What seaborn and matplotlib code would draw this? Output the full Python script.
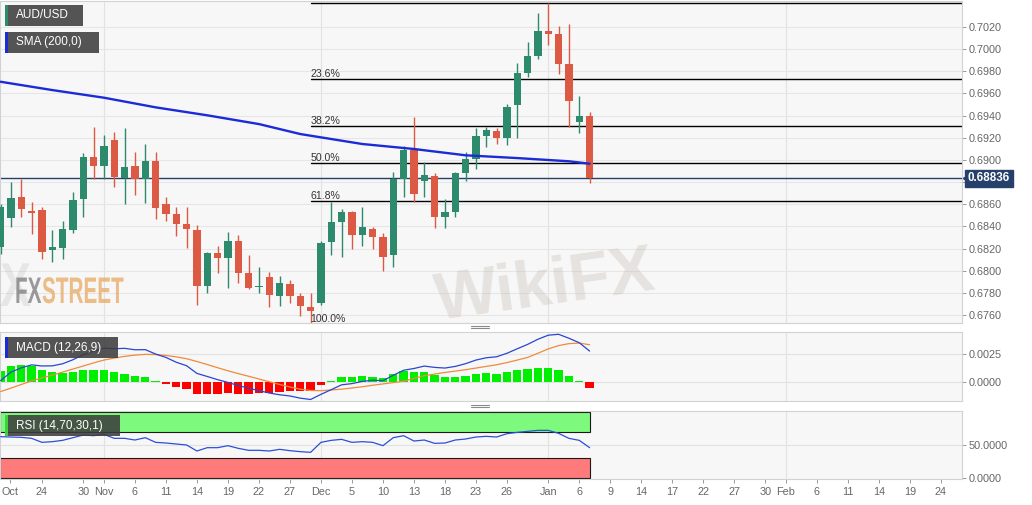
import matplotlib
matplotlib.use("Agg")
import matplotlib.pyplot as plt
import matplotlib.transforms as mtransforms
from matplotlib.patches import Rectangle, PathPatch
from matplotlib.lines import Line2D
from matplotlib.textpath import TextPath
from matplotlib.font_manager import FontProperties
import pandas as pd
import seaborn as sns

# daily AUD/USD candles, oldest first
opens = [0.68217, 0.68473, 0.68668, 0.68542, 0.68548, 0.68187, 0.68205, 0.68367, 0.68645, 0.69029,
         0.68945, 0.69180, 0.68834, 0.68945, 0.68825, 0.68993, 0.68602, 0.68512, 0.68422, 0.68367,
         0.67862, 0.68162, 0.68117, 0.68268, 0.67976, 0.67850, 0.67940, 0.67774, 0.67883, 0.67769,
         0.67675, 0.67706, 0.68256, 0.68437, 0.68527, 0.68319, 0.68374, 0.68304, 0.68142, 0.68828,
         0.69090, 0.68812, 0.68858, 0.68487, 0.68533, 0.68879, 0.69006, 0.69219, 0.69261, 0.69201,
         0.69496, 0.69787, 0.69941, 0.70164, 0.70137, 0.69866, 0.69345, 0.69399]
highs = [0.68600, 0.68803, 0.68828, 0.68623, 0.68578, 0.68367, 0.68451, 0.68713, 0.69060, 0.69295,
         0.69225, 0.69255, 0.69286, 0.69074, 0.69141, 0.69069, 0.68663, 0.68578, 0.68572, 0.68412,
         0.68171, 0.68226, 0.68347, 0.68319, 0.68139, 0.68036, 0.67991, 0.67955, 0.67916, 0.67799,
         0.67796, 0.68271, 0.68623, 0.68554, 0.68542, 0.68572, 0.68394, 0.68343, 0.68894, 0.69128,
         0.69385, 0.68984, 0.68879, 0.68645, 0.68888, 0.69074, 0.69291, 0.69300, 0.69286, 0.69502,
         0.69872, 0.70062, 0.70324, 0.70415, 0.70209, 0.70227, 0.69580, 0.69435]
lows = [0.68150, 0.68397, 0.68487, 0.68329, 0.68103, 0.68076, 0.68103, 0.68338, 0.68487, 0.68828,
        0.68828, 0.68758, 0.68602, 0.68683, 0.68614, 0.68467, 0.68451, 0.68313, 0.68202, 0.67690,
        0.67796, 0.67976, 0.67841, 0.67886, 0.67837, 0.67796, 0.67675, 0.67681, 0.67706, 0.67595,
        0.67525, 0.67690, 0.68142, 0.68121, 0.68193, 0.68223, 0.68193, 0.67997, 0.68036, 0.68663,
        0.68623, 0.68668, 0.68383, 0.68383, 0.68482, 0.68812, 0.68915, 0.69114, 0.69141, 0.69135,
        0.69201, 0.69746, 0.69911, 0.70038, 0.69776, 0.69295, 0.69240, 0.68789]
closes = [0.68578, 0.68654, 0.68560, 0.68524, 0.68171, 0.68217, 0.68379, 0.68638, 0.69026, 0.68945,
          0.69128, 0.68849, 0.68939, 0.68828, 0.68993, 0.68566, 0.68512, 0.68422, 0.68374, 0.67862,
          0.68157, 0.68117, 0.68268, 0.67976, 0.67844, 0.67864, 0.67778, 0.67886, 0.67772, 0.67681,
          0.67639, 0.68253, 0.68437, 0.68527, 0.68319, 0.68397, 0.68304, 0.68126, 0.68828, 0.69090,
          0.68692, 0.68861, 0.68482, 0.68533, 0.68879, 0.69008, 0.69216, 0.69267, 0.69201, 0.69480,
          0.69787, 0.69941, 0.70164, 0.70134, 0.69866, 0.69535, 0.69399, 0.68836]

# 200 day SMA, read at some candles
sma_idx = [0, 5, 10, 15, 20, 25, 29, 35, 40, 45, 50, 55, 57]
sma_val = [0.69706, 0.69631, 0.69562, 0.69475, 0.69403, 0.69324, 0.69234, 0.69144, 0.69099,
           0.69042, 0.69017, 0.68988, 0.68966]

fib_high = 0.70415
fib_low = 0.67521
fib_pcts = [0.0, 23.6, 38.2, 50.0, 61.8, 100.0]
last_price = 0.68836

macd_line = [0.00010, 0.00088, 0.00127, 0.00154, 0.00144, 0.00145, 0.00164, 0.00201, 0.00247, 0.00278,
             0.00307, 0.00301, 0.00305, 0.00292, 0.00293, 0.00253, 0.00222, 0.00178, 0.00146, 0.00076,
             0.00048, 0.00019, -0.00006, -0.00035, -0.00059, -0.00081, -0.00103, -0.00119, -0.00130, -0.00150,
             -0.00162, -0.00115, -0.00072, -0.00028, -0.00017, 0.00003, 0.00014, 0.00010, 0.00059, 0.00105,
             0.00121, 0.00143, 0.00131, 0.00125, 0.00140, 0.00165, 0.00198, 0.00219, 0.00228, 0.00260,
             0.00301, 0.00341, 0.00388, 0.00425, 0.00433, 0.00397, 0.00356, 0.00280]
macd_signal = [-0.00090, -0.00058, -0.00025, 0.00008, 0.00035, 0.00060, 0.00088, 0.00116, 0.00144, 0.00172,
               0.00198, 0.00216, 0.00232, 0.00243, 0.00250, 0.00248, 0.00240, 0.00227, 0.00210, 0.00185,
               0.00157, 0.00128, 0.00100, 0.00074, 0.00050, 0.00025, 0.00000, -0.00025, -0.00048, -0.00068,
               -0.00080, -0.00082, -0.00075, -0.00068, -0.00057, -0.00046, -0.00032, -0.00020, -0.00008, 0.00005,
               0.00030, 0.00055, 0.00070, 0.00085, 0.00097, 0.00110, 0.00125, 0.00140, 0.00155, 0.00175,
               0.00198, 0.00222, 0.00260, 0.00300, 0.00330, 0.00348, 0.00353, 0.00338]
macd_hist = [0.00100, 0.00146, 0.00152, 0.00146, 0.00109, 0.00085, 0.00076, 0.00085, 0.00103, 0.00106,
             0.00109, 0.00085, 0.00073, 0.00049, 0.00043, 0.00005, -0.00018, -0.00049, -0.00064, -0.00109,
             -0.00109, -0.00109, -0.00106, -0.00109, -0.00109, -0.00106, -0.00103, -0.00094, -0.00082, -0.00082,
             -0.00082, -0.00033, 0.00003, 0.00040, 0.00040, 0.00049, 0.00046, 0.00030, 0.00067, 0.00100,
             0.00091, 0.00088, 0.00061, 0.00040, 0.00043, 0.00055, 0.00073, 0.00079, 0.00073, 0.00085,
             0.00103, 0.00119, 0.00128, 0.00125, 0.00103, 0.00049, 0.00003, -0.00058]

rsi = [62.5, 62, 61.5, 60, 54, 55, 57, 61, 65, 64,
       66, 60, 60, 57.5, 61, 54, 53, 51.5, 50, 41,
       46, 46, 49, 45, 42, 42, 41, 43.5, 41.5, 40,
       39, 54, 57, 58.5, 54, 55, 54, 49, 61, 64,
       56, 57.5, 52.5, 53, 57.5, 59, 62, 63, 62, 67,
       69, 70.5, 72, 72, 67.5, 60, 57, 46]

price_ticks = [0.6760, 0.6780, 0.6800, 0.6820, 0.6840, 0.6860, 0.6880, 0.6900,
               0.6920, 0.6940, 0.6960, 0.6980, 0.7000, 0.7020]
price_labels = ["0.6760", "0.6780", "0.6800", "0.6820", "0.6840", "0.6860", "",
                "0.6900", "0.6920", "0.6940", "0.6960", "0.6980", "0.7000", "0.7020"]
date_pos = [0.9, 4, 8, 10, 13, 16, 19, 22, 25, 28, 31, 34, 37, 40, 43, 46, 49, 53, 56,
            59, 62, 65, 68, 71, 74, 76, 79, 82, 85, 88, 91]
date_labels = ["Oct", "24", "30", "Nov", "6", "11", "14", "19", "22", "27", "Dec", "5", "10",
               "13", "18", "23", "26", "Jan", "6", "9", "14", "17", "22", "27", "30", "Feb",
               "6", "11", "14", "19", "24"]
month_pos = [10, 31, 53, 76]

df = pd.DataFrame({"o": opens, "h": highs, "l": lows, "c": closes})
df["i"] = range(len(df))
df["up"] = df["c"] >= df["o"]

sns.set_style("white")
plt.rcParams["font.family"] = ["Liberation Sans", "DejaVu Sans"]

W, H = 1032, 505
fig = plt.figure(figsize=(W / 100, H / 100), dpi=100)
fig.patch.set_facecolor("white")

ax = fig.add_axes([0, 0.3604, 0.9322, 0.6376])
ax2 = fig.add_axes([0, 0.2059, 0.9322, 0.1360], sharex=ax)
ax3 = fig.add_axes([0, 0.0515, 0.9322, 0.1352], sharex=ax)

GREEN = "#2e8a6c"
RED = "#dc5a44"
for a in (ax, ax2, ax3):
    a.set_facecolor("#f7f7f7")
    for s in a.spines.values():
        s.set_color("#d2d2d2")
        s.set_linewidth(0.8)
    for m in month_pos:
        a.axvline(m, color="#e2e2e2", lw=0.8, zorder=0)
    a.tick_params(axis="y", left=False, right=True, labelleft=False, labelright=True,
                  length=3, width=0.7, color="#999999", labelcolor="#666666", labelsize=7.8, pad=2)
    a.tick_params(axis="x", bottom=False, labelbottom=False)

# --- price panel
for y in price_ticks:
    ax.axhline(y, color="#e6e6e6", lw=0.8, zorder=0)

for _, r in df.iterrows():
    col = GREEN if r["up"] else RED
    ax.vlines(r["i"], r["l"], r["h"], color=col, lw=1.0, zorder=3)
    lo, hi = min(r["o"], r["c"]), max(r["o"], r["c"])
    ax.bar(r["i"], max(hi - lo, 0.00008), bottom=lo, width=0.7, color=col, lw=0, zorder=4)

sns.lineplot(x=sma_idx, y=sma_val, ax=ax, color="#1b2bd6", lw=1.7, zorder=5)

rng = fib_high - fib_low
for p in fib_pcts:
    lvl = fib_high - rng * p / 100
    ax.plot([30, 93.5], [lvl, lvl], color="black", lw=1.0, zorder=2)
    ax.text(30, lvl, f"{p:.1f}%", fontsize=7.6, color="#333333", ha="left", va="bottom",
            clip_on=True, zorder=6)

ax.axhline(last_price, color="#2a3f66", lw=1.0, zorder=2)
trans = mtransforms.blended_transform_factory(ax.transAxes, ax.transData)
ax.text(1.006, last_price, "0.68836", transform=trans, ha="left", va="center", color="white",
        fontsize=8.4, fontweight="bold", clip_on=False,
        bbox=dict(boxstyle="square,pad=0.22", fc="#24406b", ec="#24406b"))
ax.plot([1.003], [last_price], marker="<", ms=3.5, color="#24406b", transform=trans, clip_on=False)

ax.set_yticks(price_ticks)
ax.set_yticklabels(price_labels)
ax.set_ylim(0.67528, 0.70435)
ax.set_xlim(-0.06, 93.04)

# --- MACD panel
for y in (0.0025, 0.0):
    ax2.axhline(y, color="#e2e2e2", lw=0.8, zorder=0)
hcols = ["#00ee00" if v >= 0 else "#ff0000" for v in macd_hist]
ax2.bar(df["i"], macd_hist, width=0.8, color=hcols, lw=0, zorder=2)
sns.lineplot(x=df["i"], y=macd_signal, ax=ax2, color="#f08a3c", lw=0.9, zorder=3)
sns.lineplot(x=df["i"], y=macd_line, ax=ax2, color="#2846d2", lw=0.9, zorder=4)
ax2.set_yticks([0.0025, 0.0])
ax2.set_yticklabels(["0.0025", "0.0000"])
ax2.set_ylim(-0.00176, 0.00451)

# --- RSI panel
ax3.axhline(50, color="#e2e2e2", lw=0.8, zorder=0)
ax3.add_patch(Rectangle((-0.06, 70), 57.06, 30, fc="#7dfa7d", ec="#1a1a1a", lw=0.8, zorder=1))
ax3.add_patch(Rectangle((-0.06, 0), 57.06, 30, fc="#ff7b7b", ec="#1a1a1a", lw=0.8, zorder=1))
sns.lineplot(x=df["i"], y=rsi, ax=ax3, color="#2a50d8", lw=0.9, zorder=3)
ax3.set_yticks([50, 0])
ax3.set_yticklabels(["50.0000", "0.0000"])
ax3.set_ylim(-1.05, 101.5)
ax3.set_xticks(date_pos)
ax3.set_xticklabels(date_labels)
ax3.tick_params(axis="x", bottom=True, labelbottom=True, length=3, width=0.7,
                color="#999999", labelcolor="#666666", labelsize=7.8, pad=3)
for a in (ax, ax2, ax3):
    a.set_xlabel("")
    a.set_ylabel("")


def tag(x0, y0, x1, y1, text, stripe):
    fig.add_artist(Rectangle((x0 / W, 1 - y1 / H), (x1 - x0) / W, (y1 - y0) / H,
                             transform=fig.transFigure, fc="#3c3c3c", alpha=0.87, ec="none", zorder=10))
    fig.add_artist(Rectangle((x0 / W, 1 - y1 / H), 2.5 / W, (y1 - y0) / H,
                             transform=fig.transFigure, fc=stripe, ec="none", zorder=11))
    fig.text((x0 + 11) / W, 1 - (y0 + y1) / 2 / H, text, color="white", fontsize=8.5,
             ha="left", va="center", zorder=12)


tag(5, 5, 83, 26, "AUD/USD", GREEN)
tag(5, 32, 99, 53, "SMA (200,0)", "#1b2bd6")
tag(5, 337, 118, 358, "MACD (12,26,9)", "#1b2bd6")
tag(5, 415, 120, 436, "RSI (14,70,30,1)", "#3fd03f")

# panel resize handles
for yy in (325.5, 328.0, 404.5, 407.0):
    fig.add_artist(Line2D([471 / W, 489 / W], [1 - yy / H, 1 - yy / H], color="#8a8a8a", lw=0.8,
                          transform=fig.transFigure))


# watermarks, drawn as condensed text paths in pixel space
def mark(x, y_base, text, color, alpha, size=37.0, sx=0.56):
    tp = TextPath((0, 0), text, size=size, prop=FontProperties(family="Liberation Sans", weight="bold"))
    tr = mtransforms.Affine2D().scale(sx, 1.0).translate(x, H - y_base)
    fig.add_artist(PathPatch(tp, transform=tr, fc=color, ec="none", alpha=alpha, zorder=9))


mark(0, 306, "X", "#9a9a9a", 0.18, size=62, sx=0.75)
mark(15, 303, "FX", "#7a7a7a", 0.75)
mark(42, 303, "STREET", "#e8a860", 0.75)
fig.text(545 / W, 1 - 288 / H, "WikiFX", fontsize=48, fontweight="bold", color="#b8aea4",
         alpha=0.28, rotation=8, ha="center", va="center")

fig.savefig("out.png", dpi=100, facecolor="white")
